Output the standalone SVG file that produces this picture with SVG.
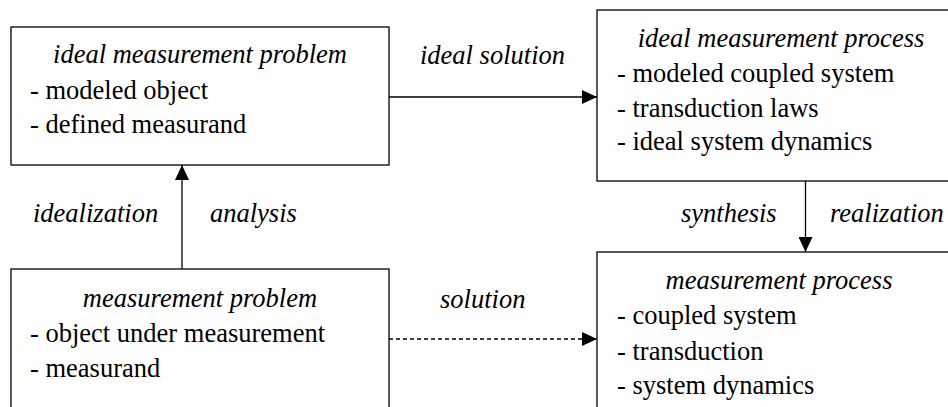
<svg xmlns="http://www.w3.org/2000/svg" width="948" height="407" viewBox="0 0 948 407">
<style>
.box{fill:#fff;stroke:#000;stroke-width:1.3}
text{font-family:'Liberation Serif','Times New Roman',Times,serif;font-size:26.5px;fill:#000}
.t{font-style:italic}
.c{text-anchor:middle}
.ln{stroke:#000;stroke-width:1.3;fill:none}
.dash{stroke-dasharray:4 3}
</style>
<defs>
<marker id="arr" viewBox="0 0 15 14" refX="15" refY="7" markerWidth="15" markerHeight="14" markerUnits="userSpaceOnUse" orient="auto">
<path d="M0,0 L15,7 L0,14 z" fill="#000"/>
</marker>
</defs>
<rect width="948" height="407" fill="#fff"/>
<g id="connectors">
<line class="ln" x1="182" y1="269" x2="182" y2="165" marker-end="url(#arr)"/>
<line class="ln" x1="389" y1="97" x2="597" y2="97" marker-end="url(#arr)"/>
<line class="ln" x1="805.5" y1="181" x2="805.5" y2="252" marker-end="url(#arr)"/>
<line class="ln dash" x1="389" y1="339" x2="597" y2="339" marker-end="url(#arr)"/>
<text class="t" x="420" y="64">ideal solution</text>
<text class="t" x="33" y="222">idealization</text>
<text class="t" x="210" y="222">analysis</text>
<text class="t" x="681" y="222">synthesis</text>
<text class="t" x="830" y="222">realization</text>
<text class="t" x="440" y="308">solution</text>
</g>
<g id="ideal-measurement-problem">
<rect class="box" x="11" y="27" width="378" height="138"/>
<text class="t c" x="200" y="63">ideal measurement problem</text>
<text x="30" y="99">- modeled object</text>
<text x="30" y="133">- defined measurand</text>
</g>
<g id="ideal-measurement-process">
<rect class="box" x="597" y="10" width="370" height="171"/>
<text class="t c" x="781" y="47">ideal measurement process</text>
<text x="617" y="82">- modeled coupled system</text>
<text x="617" y="117">- transduction laws</text>
<text x="617" y="150">- ideal system dynamics</text>
</g>
<g id="measurement-problem">
<rect class="box" x="11" y="269" width="378" height="200"/>
<text class="t c" x="200" y="307">measurement problem</text>
<text x="30" y="342">- object under measurement</text>
<text x="30" y="377">- measurand</text>
</g>
<g id="measurement-process">
<rect class="box" x="597" y="252" width="370" height="200"/>
<text class="t c" x="779" y="289">measurement process</text>
<text x="617" y="324">- coupled system</text>
<text x="617" y="360">- transduction</text>
<text x="617" y="394">- system dynamics</text>
</g>
</svg>
